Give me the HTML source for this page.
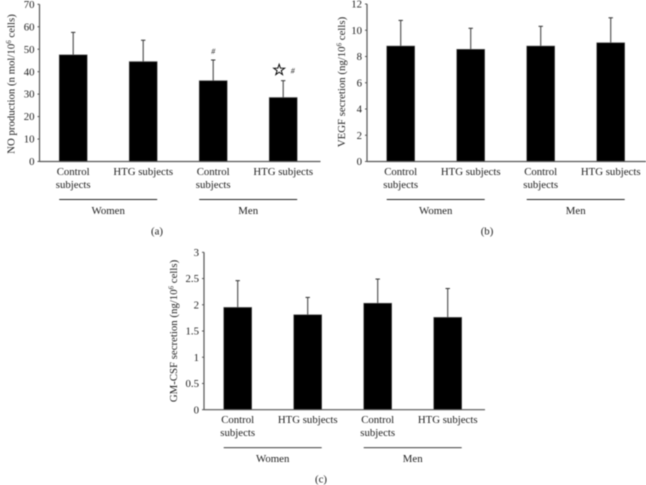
<!DOCTYPE html>
<html lang="en">
<head>
<meta charset="utf-8">
<title>NO, VEGF and GM-CSF secretion charts</title>
<style>
  html, body { margin: 0; padding: 0; background: #fff; }
  body { width: 646px; height: 485px; overflow: hidden; }
  svg { display: block; filter: blur(0.45px); }
  text { font-family: "Liberation Serif", serif; font-size: 10.8px; fill: #1c1c1c; }
</style>
</head>
<body>
<svg id="figure" xmlns="http://www.w3.org/2000/svg" width="646" height="485" viewBox="0 0 646 485"></svg>
<script>
var categories = ['Control subjects', 'HTG subjects', 'Control subjects', 'HTG subjects'];
var groups = ['Women', 'Men'];

var noValues = [47.5, 44.5, 36, 28.5];
var noErrorTops = [57.5, 54, 45.2, 36];
var noTicks = [0, 10, 20, 30, 40, 50, 60, 70];

var vegfValues = [8.8, 8.55, 8.8, 9.05];
var vegfErrorTops = [10.75, 10.15, 10.3, 10.95];
var vegfTicks = [0, 2, 4, 6, 8, 10, 12];

var gmcsfValues = [1.95, 1.81, 2.03, 1.76];
var gmcsfErrorTops = [2.46, 2.14, 2.49, 2.31];
var gmcsfTicks = [0, 0.5, 1, 1.5, 2, 2.5, 3];

var NS = 'http://www.w3.org/2000/svg';
var figure = document.getElementById('figure');

function make(parent, tag, attrs, content) {
  var el = document.createElementNS(NS, tag);
  for (var k in attrs) el.setAttribute(k, attrs[k]);
  if (content !== undefined) el.textContent = content;
  parent.appendChild(el);
  return el;
}

function drawPanel(p) {
  var g = make(figure, 'g', {});
  
  

  var yMax = p.ticks[p.ticks.length - 1];
  function yScale(v) { return p.y0 - (v / yMax) * (p.y0 - p.yTop); }
  function xScale(i) { return p.axisX + 33.7 + i * 70; }

  // bars and error bars
  p.values.forEach(function (v, i) {
    var cx = xScale(i);
    var err = make(g, 'line', { x1: cx, x2: cx, y1: yScale(p.tops[i]), y2: yScale(v), stroke: '#555', 'stroke-width': 1.2 });
    
    
    var cap = make(g, 'line', { x1: cx - 2.2, x2: cx + 2.2, y1: yScale(p.tops[i]), y2: yScale(p.tops[i]), stroke: '#333', 'stroke-width': 1 });
    
    
    var bar = make(g, 'rect', { x: cx - 14, y: yScale(v), width: 28, height: p.y0 - yScale(v), fill: '#000', stroke: '#666', 'stroke-width': 0.6 });
    
    
  });

  // axes
  var yAxis = make(g, 'line', { x1: p.axisX, x2: p.axisX, y1: p.yTop, y2: p.y0, stroke: '#555', 'stroke-width': 1.2 });
  
  
  var xAxis = make(g, 'line', { x1: p.axisX, x2: p.axisX + 281, y1: p.y0, y2: p.y0, stroke: '#555', 'stroke-width': 1.2 });
  
  

  // y ticks
  p.ticks.forEach(function (t) {
    var y = yScale(t);
    var tick = make(g, 'line', { x1: p.axisX - 2, x2: p.axisX, y1: y, y2: y, stroke: '#555', 'stroke-width': 1 });
    
    
    var label = make(g, 'text', { x: p.axisX - 5, y: y + 3.6, 'text-anchor': 'end' }, String(t));
    
    
  });

  // x category labels
  categories.forEach(function (c, i) {
    var cx = xScale(i);
    var words = c.split(' ');
    var baseY = p.y0 + 13.5;
    if (words[0] === 'Control') {
      var l1 = make(g, 'text', { x: cx, y: baseY, 'text-anchor': 'middle' }, words[0]);
      
      
      var l2 = make(g, 'text', { x: cx, y: baseY + 13, 'text-anchor': 'middle' }, words[1]);
      
      
    } else {
      var l = make(g, 'text', { x: cx, y: baseY, 'text-anchor': 'middle' }, c);
      
      
    }
  });

  // group brackets
  groups.forEach(function (name, i) {
    var left = xScale(i * 2) - 14;
    var right = xScale(i * 2 + 1) + 14;
    var rule = make(g, 'line', { x1: left, x2: right, y1: p.y0 + 38, y2: p.y0 + 38, stroke: '#222', 'stroke-width': 0.9 });
    
    
    var label = make(g, 'text', { x: (left + right) / 2, y: p.y0 + 52.5, 'text-anchor': 'middle' }, name);
    
    
  });

  // y axis title
  var title = make(g, 'text', { transform: 'translate(' + p.titleX + ',' + p.titleY + ') rotate(-90)', 'text-anchor': 'middle' });
  
  
  make(title, 'tspan', {}, p.title[0]);
  make(title, 'tspan', { dy: -3.5, style: 'font-size:7px' }, '6');
  make(title, 'tspan', { dy: 3.5 }, p.title[1]);

  // panel caption
  var cap = make(g, 'text', { x: p.captionX, y: p.y0 + 73, 'text-anchor': 'middle' }, '(' + p.id + ')');
  
  

  // significance markers
  if (p.id === 'a') {
    var h1 = make(g, 'text', { x: xScale(2), y: yScale(p.tops[2]) - 6, 'text-anchor': 'middle', style: 'font-size:8px;font-style:italic' }, '#');
    
    
    var star = make(g, 'text', { x: xScale(3) - 4, y: yScale(p.tops[3]) - 5.5, 'text-anchor': 'middle', style: 'font-size:16px;font-family:\"DejaVu Sans\",sans-serif;fill:#000;stroke:#000;stroke-width:0.5' }, '\u2606');
    
    
    var h2 = make(g, 'text', { x: xScale(3) + 9.5, y: yScale(p.tops[3]) - 7, 'text-anchor': 'middle', style: 'font-size:8px;font-style:italic' }, '#');
    
    
  }
}

drawPanel({ id: 'a', axisX: 39.5, y0: 161.5, yTop: 4.3, captionX: 157, values: noValues, tops: noErrorTops, ticks: noTicks,
  title: ['NO production (n mol/10', ' cells)'], titleX: 14.5, titleY: 84 });
drawPanel({ id: 'b', axisX: 367, y0: 161.5, yTop: 4, captionX: 487, values: vegfValues, tops: vegfErrorTops, ticks: vegfTicks,
  title: ['VEGF secretion (ng/10', ' cells)'], titleX: 345, titleY: 82 });
drawPanel({ id: 'c', axisX: 204, y0: 409.7, yTop: 252.3, captionX: 321, values: gmcsfValues, tops: gmcsfErrorTops, ticks: gmcsfTicks,
  title: ['GM-CSF secretion (ng/10', ' cells)'], titleX: 177, titleY: 331 });
</script>
</body>
</html>
